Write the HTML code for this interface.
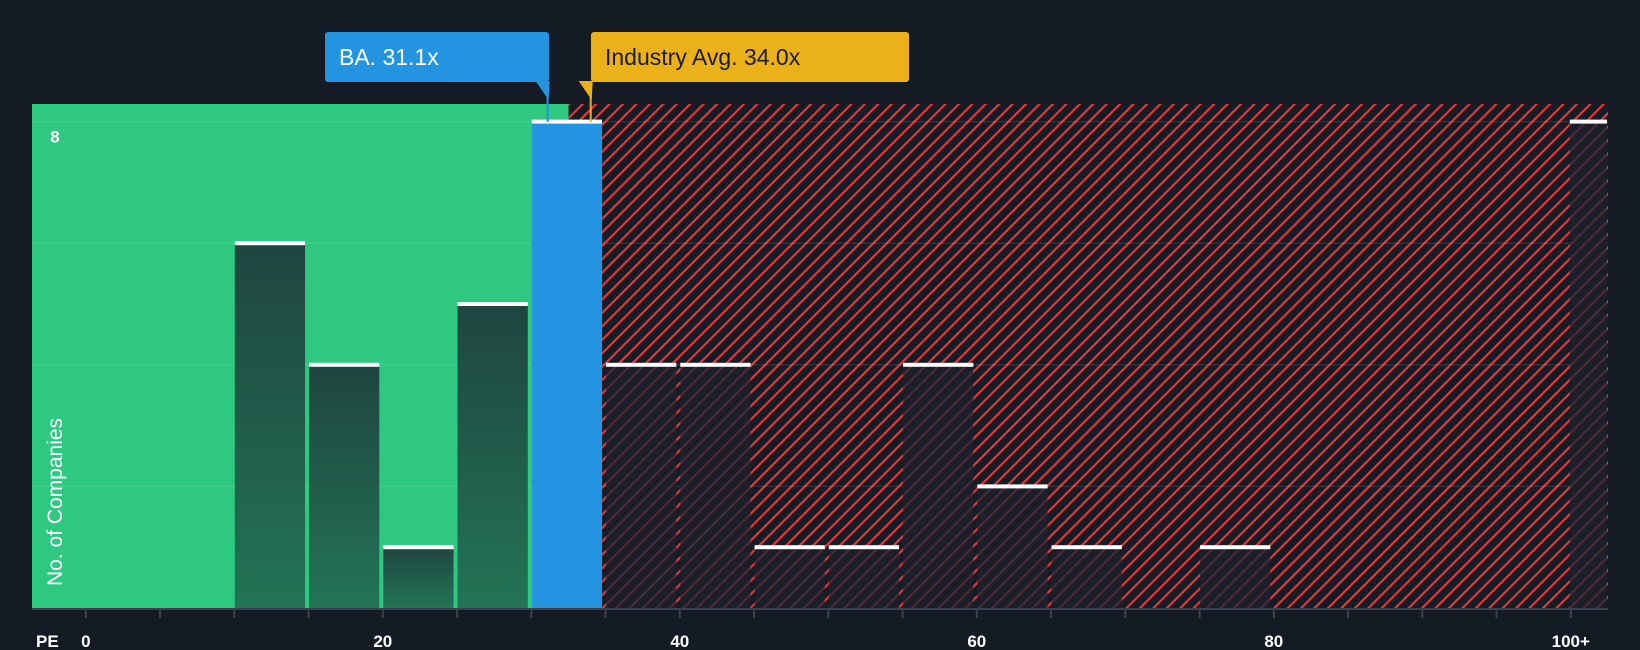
<!DOCTYPE html>
<html><head><meta charset="utf-8"><style>
body{margin:0;background:#151b24;}
svg{display:block;font-family:"Liberation Sans",sans-serif;}
</style></head><body>
<svg id="chart" width="1640" height="650">
<defs>
<pattern id="hatch" patternUnits="userSpaceOnUse" width="9.5" height="9.5" patternTransform="rotate(45)">
<rect width="9.5" height="9.5" fill="#161b24"/><rect x="0" y="0" width="2.2" height="9.5" fill="#e0383d"/>
</pattern>
<pattern id="hatch2" patternUnits="userSpaceOnUse" width="9.5" height="9.5" patternTransform="rotate(45)">
<rect width="9.5" height="9.5" fill="#1c1f2a"/><rect x="0" y="0" width="2.2" height="9.5" fill="#4a2a33"/>
</pattern>
<linearGradient id="gbar" x1="0" y1="0" x2="0" y2="1"><stop offset="0" stop-color="#1f4540"/><stop offset="1" stop-color="#237455"/></linearGradient>
</defs>
<g id="bg"></g>
<g id="grid"></g>
<g id="bars"></g>
<g id="axis"></g>
<g id="labels"></g>
</svg>
<script>
const binStarts=[10,15,20,25,30,35,40,45,50,55,60,65,75,100];
const counts=[6,4,1,5,8,4,4,1,1,4,2,1,1,8];
const companyPE=[31.1];
const industryPE=[34.0];
const xTicks=[0,20,40,60,80];
const yTicks=[8];

const NS='http://www.w3.org/2000/svg';
const L=32,R=1608,T=104,B=608;
function xs(v){return 85.8+(v/5)*74.25;}
function ys(v){return B-v*60.8;}
function el(tag,attrs,parent,text){const e=document.createElementNS(NS,tag);for(const k in attrs)e.setAttribute(k,attrs[k]);if(text!==undefined)e.textContent=text;parent.appendChild(e);return e;}
const bg=document.getElementById('bg'),grid=document.getElementById('grid'),bars=document.getElementById('bars'),axis=document.getElementById('axis'),labels=document.getElementById('labels');
const split=xs(companyPE[0])+21;
let g=el('rect',{x:L,y:T,width:split-L,height:B-T,fill:'#2ec880'},bg);


let h=el('rect',{x:split,y:T,width:R-split,height:B-T,fill:'url(#hatch)'},bg);


[2,4,6,8].forEach(v=>{const l=el('line',{x1:L,x2:R,y1:ys(v),y2:ys(v),stroke:'rgba(255,255,255,0.1)','stroke-width':1.5},grid);

});
binStarts.forEach((s,i)=>{
 const x0=s>=100?xs(100)-1:xs(s)+0.5, x1=s>=100?R-1:xs(s+5)-3.5;
 const y=ys(counts[i]);
 const isBA=companyPE[0]>=s&&companyPE[0]<s+5;
 const fill=isBA?'#2394e0':(x0<split?'url(#gbar)':'url(#hatch2)');
 const r=el('rect',{x:x0,y:y,width:x1-x0,height:B-y,fill:fill},bars);
 
 
 const c=el('rect',{x:x0,y:y-2,width:x1-x0,height:4,fill:'#ffffff'},bars);
 
 
});
const ax=el('line',{x1:L,x2:R,y1:B+1,y2:B+1,stroke:'#3a414d','stroke-width':2},axis);


for(let v=0;v<=100;v+=5){const t=el('line',{x1:xs(v),x2:xs(v),y1:B,y2:B+10,stroke:'#3a414d','stroke-width':2},axis);

}
xTicks.forEach(v=>{const t=el('text',{x:xs(v),y:647,fill:'#fff','font-size':17,'font-weight':'bold','text-anchor':'middle'},axis,String(v));

});
let t100=el('text',{x:xs(100),y:647,fill:'#fff','font-size':17,'font-weight':'bold','text-anchor':'middle'},axis,'100+');


let pe=el('text',{x:36,y:647,fill:'#fff','font-size':17,'font-weight':'bold'},axis,'PE');


yTicks.forEach(v=>{const t=el('text',{x:55,y:ys(v)+21,fill:'#fff','font-size':17,'font-weight':'bold','text-anchor':'middle'},axis,String(v));

});
let yt=el('text',{x:0,y:0,fill:'#fff','font-size':21,'text-anchor':'middle',transform:'translate(62,502) rotate(-90)'},axis,'No. of Companies');


function callout(val,x0,x1,color,txtColor,text,name){
 const px=xs(val);
 const grp=el('g',{},labels);
 
 
 el('rect',{x:x0,y:32,width:x1-x0,height:50,rx:3,fill:color},grp);
 el('line',{x1:px,x2:px,y1:82,y2:T+18,stroke:color,'stroke-width':2},grp);
 el('polygon',{points:(px-12)+',81 '+(px+2)+',81 '+(px+1)+',100'},grp).setAttribute('fill',color);
 el('text',{x:x0+14,y:65,fill:txtColor,'font-size':23},grp,text);
}
callout(companyPE[0],325,549,'#2394e0','#fff','BA. 31.1x','company-callout');
callout(industryPE[0],591,909,'#ebb11a','#1b1d22','Industry Avg. 34.0x','industry-callout');
</script>
</body></html>
